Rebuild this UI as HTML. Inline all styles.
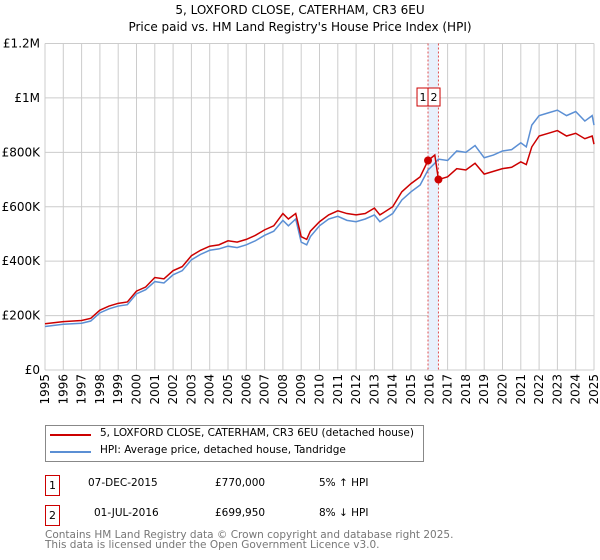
<!DOCTYPE html>
<html><head><meta charset="utf-8"><style>
body{margin:0;background:#fff;font-family:"DejaVu Sans","Liberation Sans",sans-serif;}
#wrap{position:relative;width:600px;height:560px;overflow:hidden;}
.t{position:absolute;font-size:12px;color:#000;white-space:nowrap;}
svg text{font-family:"DejaVu Sans","Liberation Sans",sans-serif;}
</style></head><body>
<div id="wrap">
<div class="t" style="left:0;width:600px;text-align:center;top:3px;font-size:12px">5, LOXFORD CLOSE, CATERHAM, CR3 6EU</div>
<div class="t" style="left:0;width:600px;text-align:center;top:20px;font-size:12px">Price paid vs. HM Land Registry's House Price Index (HPI)</div>
<svg id="chart" width="600" height="420" style="position:absolute;left:0;top:0"></svg>
<div style="position:absolute;left:45px;top:425px;width:377px;height:35px;border:1px solid #888;"></div>
<div style="position:absolute;left:50px;top:434px;width:41px;height:2px;background:#cc0000"></div>
<div class="t" style="left:100px;top:427px;font-size:10.5px">5, LOXFORD CLOSE, CATERHAM, CR3 6EU (detached house)</div>
<div style="position:absolute;left:50px;top:451px;width:41px;height:2px;background:#5b8fd4"></div>
<div class="t" style="left:100px;top:444px;font-size:10.5px">HPI: Average price, detached house, Tandridge</div>
<div style="position:absolute;left:45px;top:475px;width:13px;height:19px;border:1px solid #cc0000;font-size:11px;text-align:center;line-height:19px">1</div>
<div class="t" style="left:88px;top:477px;font-size:10.5px">07-DEC-2015</div>
<div class="t" style="left:215px;top:477px;font-size:10.5px">£770,000</div>
<div class="t" style="left:319px;top:477px;font-size:10.5px">5% ↑ HPI</div>
<div style="position:absolute;left:45px;top:505px;width:13px;height:19px;border:1px solid #cc0000;font-size:11px;text-align:center;line-height:19px">2</div>
<div class="t" style="left:94px;top:507px;font-size:10.5px">01-JUL-2016</div>
<div class="t" style="left:215px;top:507px;font-size:10.5px">£699,950</div>
<div class="t" style="left:319px;top:507px;font-size:10.5px">8% ↓ HPI</div>
<div class="t" style="left:45px;top:530px;font-size:10.5px;color:#777;line-height:10px">Contains HM Land Registry data © Crown copyright and database right 2025.<br>This data is licensed under the Open Government Licence v3.0.</div>
</div>
<script>
const yTicks=[0,200000,400000,600000,800000,1000000,1200000];
const yTickLabels=["£0","£200K","£400K","£600K","£800K","£1M","£1.2M"];
const xYears=[1995,1996,1997,1998,1999,2000,2001,2002,2003,2004,2005,2006,2007,2008,2009,2010,2011,2012,2013,2014,2015,2016,2017,2018,2019,2020,2021,2022,2023,2024,2025];
const propT=[1995,1996,1997,1997.5,1998,1998.5,1999,1999.5,2000,2000.5,2001,2001.5,2002,2002.5,2003,2003.5,2004,2004.5,2005,2005.5,2006,2006.5,2007,2007.5,2008,2008.3,2008.7,2009,2009.3,2009.5,2010,2010.5,2011,2011.5,2012,2012.5,2013,2013.3,2014,2014.5,2015,2015.5,2015.93,2016.3,2016.5,2017,2017.5,2018,2018.5,2019,2019.5,2020,2020.5,2021,2021.3,2021.6,2022,2022.5,2023,2023.5,2024,2024.5,2024.9,2025];
const propV=[170000,178000,182000,190000,220000,235000,245000,250000,290000,305000,340000,335000,365000,380000,420000,440000,455000,460000,475000,470000,480000,495000,515000,530000,575000,555000,575000,490000,480000,510000,545000,570000,585000,575000,570000,575000,595000,570000,600000,655000,685000,710000,770000,790000,700000,710000,740000,735000,760000,720000,730000,740000,745000,765000,755000,820000,860000,870000,880000,860000,870000,850000,860000,830000];
const hpiV=[160000,168000,172000,180000,210000,225000,235000,240000,280000,295000,325000,320000,350000,365000,405000,425000,440000,445000,455000,450000,460000,475000,495000,510000,550000,530000,555000,470000,460000,490000,530000,555000,565000,550000,545000,555000,570000,545000,575000,625000,655000,680000,735000,760000,775000,770000,805000,800000,825000,780000,790000,805000,810000,835000,820000,900000,935000,945000,955000,935000,950000,915000,935000,900000];
const sales=[[2015.93,770000,"1"],[2016.5,699950,"2"]];
const L=45,R=594,T=43.5,B=370,X0=1995,X1=2025,YMAX=1200000;
const xs=v=>L+(v-X0)/(X1-X0)*(R-L);
const ys=v=>B-v/YMAX*(B-T);
const svg=document.getElementById('chart');
const NS='http://www.w3.org/2000/svg';
function mk(tag,attrs){const e=document.createElementNS(NS,tag);for(const k in attrs)e.setAttribute(k,attrs[k]);svg.appendChild(e);return e;}
xYears.forEach(y=>{const l=mk('line',{x1:xs(y),x2:xs(y),y1:T,y2:B,stroke:'#ccc','stroke-width':1});


const t=mk('text',{x:0,y:0,'font-size':12,transform:`translate(${xs(y)+4},${B+4}) rotate(-90)`,'text-anchor':'end'});t.textContent=y;

});
yTicks.forEach((v,i)=>{const l=mk('line',{x1:L,x2:R,y1:ys(v),y2:ys(v),stroke:'#ccc','stroke-width':1});


const t=mk('text',{x:L-5,y:ys(v)+4,'font-size':12,'text-anchor':'end'});t.textContent=yTickLabels[i];

});
const band=mk('rect',{x:xs(sales[0][0]),y:T,width:xs(sales[1][0])-xs(sales[0][0]),height:B-T,fill:'#e8f0fb'});


sales.forEach(s=>{const l=mk('line',{x1:xs(s[0]),x2:xs(s[0]),y1:T,y2:B,stroke:'#e05050','stroke-dasharray':'2,2','stroke-width':1});

});
const hp=mk('polyline',{points:propT.map((t,i)=>xs(t)+','+ys(hpiV[i])).join(' '),fill:'none',stroke:'#5b8fd4','stroke-width':1.5});


const pp=mk('polyline',{points:propT.map((t,i)=>xs(t)+','+ys(propV[i])).join(' '),fill:'none',stroke:'#cc0000','stroke-width':1.5});


const bx=xs(sales[0][0]);
sales.forEach((s,i)=>{const c=mk('circle',{cx:xs(s[0]),cy:ys(s[1]),r:4,fill:'#cc0000'});


const w=12,x=i===0?bx-w+1:bx;
const r=mk('rect',{x:x,y:88,width:w,height:18,fill:'#fff',stroke:'#cc0000'});


const t=mk('text',{x:x+w/2,y:101,'font-size':11,'text-anchor':'middle'});t.textContent=s[2];

});
</script>
</body></html>
